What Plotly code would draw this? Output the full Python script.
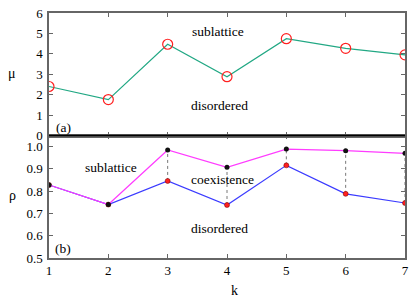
import plotly.graph_objects as go
from plotly.subplots import make_subplots

k = [1, 2, 3, 4, 5, 6, 7]
mu = [2.40, 1.76, 4.47, 2.88, 4.74, 4.27, 3.95]
rho_upper = [0.828, 0.740, 0.985, 0.907, 0.989, 0.982, 0.970]
rho_lower = [0.828, 0.740, 0.846, 0.738, 0.916, 0.788, 0.747]
mu_ticks = [0, 1, 2, 3, 4, 5, 6]
rho_ticks = [0.5, 0.6, 0.7, 0.8, 0.9, 1.0]

FONT = "Liberation Serif"
fig = make_subplots(rows=2, cols=1, shared_xaxes=True, vertical_spacing=0)

fig.add_trace(go.Scatter(x=k, y=mu, mode="lines+markers",
                         line=dict(color="#22a884", width=1.2),
                         marker=dict(symbol="circle-open", size=10, color="#ff2020",
                                     line=dict(width=1.2, color="#ff2020"))),
              row=1, col=1)

# dotted connectors where the two densities differ
dx, dy = [], []
for kk, lo, hi in zip(k, rho_lower, rho_upper):
    if hi - lo > 0.01:
        dx += [kk, kk, None]
        dy += [lo, hi, None]
fig.add_trace(go.Scatter(x=dx, y=dy, mode="lines",
                         line=dict(color="#555555", width=0.8, dash="dot")),
              row=2, col=1)

fig.add_trace(go.Scatter(x=k, y=rho_lower, mode="lines+markers",
                         line=dict(color="#3b3bff", width=1.2),
                         marker=dict(size=5, color="#ff2020",
                                     line=dict(width=0.5, color="#660000"))),
              row=2, col=1)
fig.add_trace(go.Scatter(x=k, y=rho_upper, mode="lines+markers",
                         line=dict(color="#ff3cff", width=1.2),
                         marker=dict(size=5, color="#111111")),
              row=2, col=1)

axis_common = dict(showline=True, linecolor="#666666", linewidth=1.5, mirror="ticks",
                   ticks="inside", ticklen=4, tickcolor="#666666", tickwidth=1,
                   showgrid=False, zeroline=False,
                   tickfont=dict(family=FONT, size=13, color="black"))

fig.update_xaxes(**axis_common, range=[1, 7], tickvals=k)
fig.update_xaxes(showticklabels=False, row=1, col=1)
fig.update_yaxes(**axis_common, ticklabelstandoff=2)
fig.update_yaxes(range=[0, 6], tickvals=mu_ticks, row=1, col=1)
fig.update_yaxes(range=[0.5, 1.05], tickvals=rho_ticks, tickformat=".1f", row=2, col=1)

fig.add_shape(type="line", xref="paper", yref="paper", x0=0, x1=1, y0=0.5, y1=0.5,
              line=dict(color="black", width=1.5))

def txt(x, y, s, xref, yref, size=13.5):
    fig.add_annotation(x=x, y=y, text=s, xref=xref, yref=yref, showarrow=False,
                       font=dict(family=FONT, size=size, color="black"))

txt(3.85, 5.1, "sublattice", "x", "y")
txt(3.88, 1.49, "disordered", "x", "y")
txt(1.24, 0.38, "(a)", "x", "y")
txt(2.04, 0.907, "sublattice", "x2", "y2")
txt(3.93, 0.854, "coexistence", "x2", "y2")
txt(3.88, 0.634, "disordered", "x2", "y2")
txt(1.24, 0.541, "(b)", "x2", "y2")

fig.update_layout(width=415, height=299, margin=dict(l=49, r=6, t=6, b=41),
                  plot_bgcolor="white", paper_bgcolor="white", showlegend=False,
                  font=dict(family=FONT))

# axis titles placed in paper coordinates
H = 252.0
W = 360.0
def paper_text(px, py, s, size=14):
    fig.add_annotation(x=(px - 49) / W, y=(258 - py) / H, xref="paper", yref="paper",
                       xanchor="center", yanchor="middle",
                       text=s, showarrow=False,
                       font=dict(family=FONT, size=size, color="black"))

paper_text(12, 68, "μ")
paper_text(12, 194, "ρ")
paper_text(237, 291, "k")

fig.write_html("out.html", config={"displayModeBar": False},
               post_script="document.body.style.margin='0';document.body.style.padding='0';document.body.style.overflow='hidden';")
